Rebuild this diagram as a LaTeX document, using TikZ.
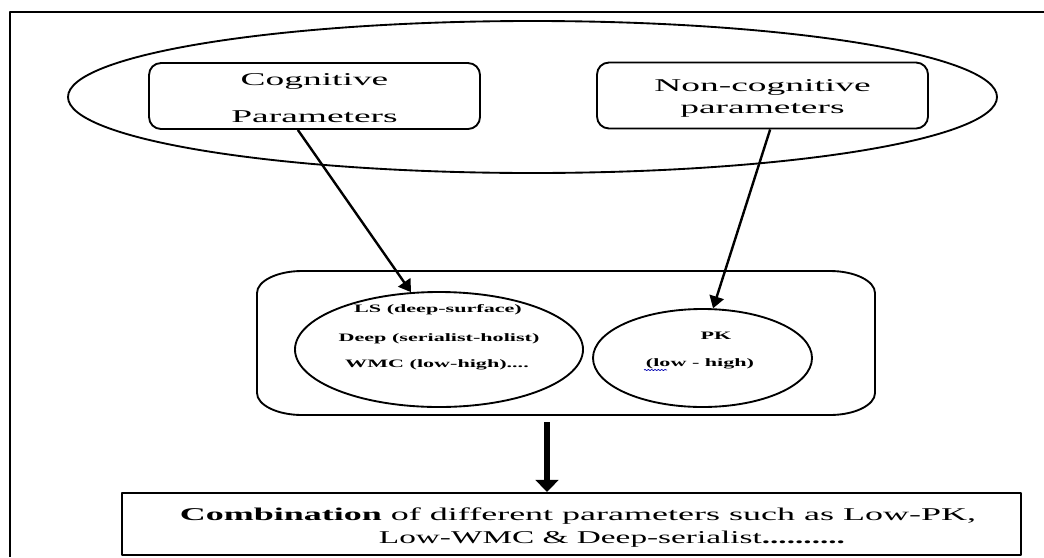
\documentclass[tikz,border=0pt]{standalone}
\usepackage{fontspec}
\setmainfont{Liberation Serif}
\usetikzlibrary{shapes.geometric,arrows.meta,calc,decorations.pathmorphing}

% horizontally widened text
\newcommand\widetext[2]{\scalebox{#1}[1]{#2}}

\begin{document}
\begin{tikzpicture}[x=0.75pt,y=-0.75pt,line join=round,
  frameline/.style={line width=1.1pt},
  outline/.style={draw,line width=1.4pt},
  parambox/.style={outline,rectangle,rounded corners=9pt,inner sep=0pt,
    minimum width={331*0.75pt},minimum height={66*0.75pt}},
  oval/.style={outline,ellipse,inner sep=0pt},
  toptext/.style={inner sep=0pt,anchor=base,font=\fontsize{13.5}{16}\selectfont},
  ovaltext/.style={inner sep=0pt,anchor=base,font=\fontsize{8.5}{10}\selectfont\bfseries},
  bottext/.style={inner sep=0pt,anchor=base,font=\fontsize{13.5}{16}\selectfont},
  linkarrow/.style={line width=1.8pt,-{Triangle[length=9pt,width=11pt]}},
  bigarrow/.style={line width=5pt,-{Triangle[length=9pt,width=17pt]}}
]
\useasboundingbox (0,0) rectangle (1044,557);

% open frame: left and top edges
\draw[frameline] (10,557) -- (10,12) -- (1044,12);

% upper group
\node[oval,minimum width={929*0.75pt},minimum height={152*0.75pt}] (group) at (532.5,97) {};
\node[parambox] (cog) at (314.5,96) {};
\node[parambox] (noncog) at (762.5,95.5) {};
\node[toptext] (cogA) at (314.5,85) {\widetext{2.08}{Cognitive}};
\node[toptext] (cogB) at (314.5,122) {\widetext{2.08}{Parameters}};
\node[toptext] (noncogA) at (762.5,91) {\widetext{2.08}{Non-cognitive}};
\node[toptext] (noncogB) at (762.5,113) {\widetext{2.08}{parameters}};

% middle group
\node[inner sep=0pt,minimum width={618*0.75pt},minimum height={144*0.75pt}] (mid) at (566,343) {};
\draw[line width=1.4pt] (302,271) -- (830,271)
  .. controls (854.8,271) and (875,281) .. (875,293) -- (875,393)
  .. controls (875,405) and (854.8,415) .. (830,415) -- (302,415)
  .. controls (277.2,415) and (257,405) .. (257,393) -- (257,293)
  .. controls (257,281) and (277.2,271) .. (302,271) -- cycle;
\node[oval,minimum width={288*0.75pt},minimum height={115*0.75pt}] (ls) at (439,349.5) {};
\node[oval,minimum width={219*0.75pt},minimum height={98*0.75pt}] (pk) at (702.5,358) {};
\node[ovaltext] (lsA) at (438,312) {\widetext{1.95}{LS (deep-surface)}};
\node[ovaltext] (lsB) at (439,341) {\widetext{1.95}{Deep (serialist-holist)}};
\node[ovaltext] (lsC) at (437,367) {\widetext{1.95}{WMC (low-high)....}};
\node[ovaltext] (pkA) at (716,339) {\widetext{1.95}{PK}};
\node[ovaltext] (pkB) at (700,366) {\widetext{1.95}{(low - high)}};
\draw[blue!70!black,line width=0.5pt,decorate,
  decoration={snake,amplitude=0.5pt,segment length=2.5pt}]
  (644,370) -- (667,370);

% bottom box
\node[draw,line width=1.6pt,rectangle,inner sep=0pt,
  minimum width={899*0.75pt},minimum height={62*0.75pt}] (combo) at (571.5,524) {};
\node[bottext] (comboA) at (578,520) {\widetext{2.0}{\textbf{Combination} of different parameters such as Low-PK,}};
\node[bottext] (comboB) at (612,543) {\widetext{1.85}{Low-WMC \& Deep-serialist\textbf{..........}}};

% connectors
\draw[linkarrow] ($(cog.south west)!0.45!(cog.south east)$) -- (ls.116);
\draw[linkarrow] ($(noncog.south west)!0.523!(noncog.south east)$) -- (pk.78);
\coordinate (midout) at (547,422);
\draw[bigarrow] (midout) -- (midout |- combo.north);
\end{tikzpicture}
\end{document}
